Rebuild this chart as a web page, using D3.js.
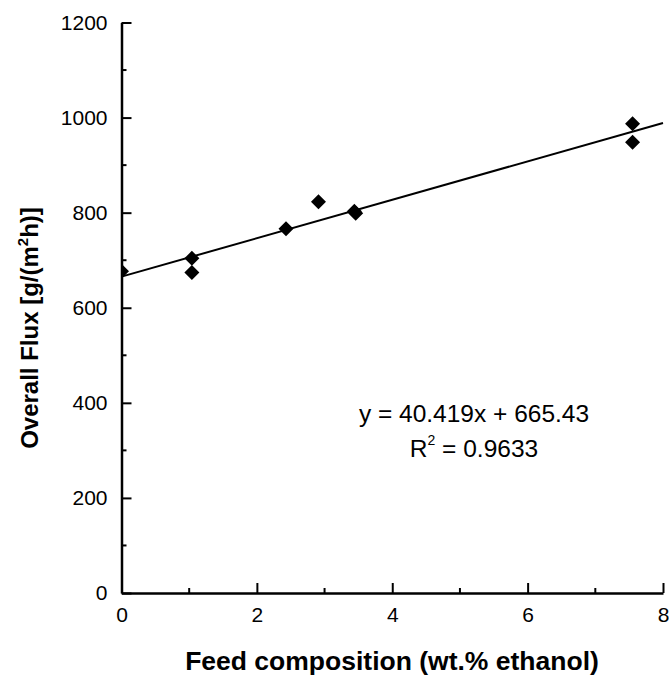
<!DOCTYPE html>
<html>
<head>
<meta charset="utf-8">
<script src="https://cdn.jsdelivr.net/npm/d3@7"></script>
<style>
  html, body { margin: 0; padding: 0; background: #fff; }
  svg { display: block; font-family: "Liberation Sans", Arial, sans-serif; }
</style>
</head>
<body>
<svg id="chart" width="669" height="675"></svg>
<script>
// Data
const feedComposition = [0, 1.04, 1.04, 2.43, 2.91, 3.44, 3.46, 7.55, 7.55];
const overallFlux     = [677, 704, 674, 766, 823, 803, 799, 987, 948];
const xTicks = [0, 2, 4, 6, 8];
const xMinorTicks = [1, 3, 5, 7];
const yTicks = [0, 200, 400, 600, 800, 1000, 1200];
const yMinorTicks = [100, 300, 500, 700, 900, 1100];
const fitSlope = 40.419;
const fitIntercept = 665.43;
const fitRange = [0, 8];

const FONT = "Liberation Sans, Arial, sans-serif";
const svg = d3.select("#chart");
const margin = { left: 121.5, right: 6, top: 22.5, bottom: 82 };
const W = 669, H = 675;

const x = d3.scaleLinear().domain([0, 8]).range([margin.left, W - margin.right]);
const y = d3.scaleLinear().domain([0, 1200]).range([H - margin.bottom, margin.top]);

svg.append("defs").append("clipPath").attr("id", "plotclip")
  .append("rect")
  .attr("x", x(0)).attr("y", y(1200) - 10)
  .attr("width", x(8) - x(0) + 10).attr("height", y(0) - y(1200) + 10);

// Fit line
svg.append("line")
  .attr("x1", x(fitRange[0])).attr("y1", y(fitSlope * fitRange[0] + fitIntercept))
  .attr("x2", x(fitRange[1])).attr("y2", y(fitSlope * fitRange[1] + fitIntercept))
  .attr("stroke", "#000").attr("stroke-width", 2);

// Points (diamonds)
const r = 7.5;
const diamond = `M0,${-r}L${r},0L0,${r}L${-r},0Z`;
svg.append("g").attr("clip-path", "url(#plotclip)")
  .selectAll("path")
  .data(feedComposition.map((d, i) => [d, overallFlux[i]]))
  .join("path")
  .attr("d", diamond)
  .attr("transform", d => `translate(${x(d[0])},${y(d[1])})`)
  .attr("fill", "#000");

// X axis
const xAxis = svg.append("g").attr("transform", `translate(0,${y(0)})`);
xAxis.call(d3.axisBottom(x).tickValues(xTicks).tickSizeInner(-10).tickSizeOuter(0).tickPadding(14).tickFormat(d3.format("d")));
xAxis.append("g").selectAll("line").data(xMinorTicks).join("line")
  .attr("x1", d => x(d)).attr("x2", d => x(d)).attr("y1", 0).attr("y2", -5)
  .attr("stroke", "#000").attr("stroke-width", 2);
xAxis.select(".domain").attr("stroke-width", 2.5);
xAxis.selectAll(".tick line").attr("stroke-width", 2);
xAxis.selectAll(".tick text").attr("font-size", 21).attr("fill", "#000").attr("font-family", FONT);

// Y axis
const yAxis = svg.append("g").attr("transform", `translate(${x(0)},0)`);
yAxis.call(d3.axisLeft(y).tickValues(yTicks).tickSizeInner(-10).tickSizeOuter(0).tickPadding(14).tickFormat(d3.format("d")));
yAxis.append("g").selectAll("line").data(yMinorTicks).join("line")
  .attr("x1", 0).attr("x2", 5).attr("y1", d => y(d)).attr("y2", d => y(d))
  .attr("stroke", "#000").attr("stroke-width", 2);
yAxis.select(".domain").attr("stroke-width", 2.5);
yAxis.selectAll(".tick line").attr("stroke-width", 2);
yAxis.selectAll(".tick text").attr("font-size", 21).attr("fill", "#000").attr("font-family", FONT);

// Axis titles
svg.append("text")
  .attr("x", 392).attr("y", 670)
  .attr("text-anchor", "middle")
  .attr("font-size", 26.5).attr("font-weight", "bold")
  .text("Feed composition (wt.% ethanol)");

const yt = svg.append("text")
  .attr("transform", `translate(38,328) rotate(-90)`)
  .attr("text-anchor", "middle")
  .attr("font-size", 24).attr("font-weight", "bold");
yt.append("tspan").text("Overall Flux [g/(m");
yt.append("tspan").attr("font-size", 15).attr("dy", -10).text("2");
yt.append("tspan").attr("dy", 10).text("h)]");

// Equation
svg.append("text")
  .attr("x", 474).attr("y", 422)
  .attr("text-anchor", "middle").attr("font-size", 24.5)
  .text(`y = ${fitSlope}x + ${fitIntercept}`);
const r2 = svg.append("text")
  .attr("x", 474).attr("y", 457)
  .attr("text-anchor", "middle").attr("font-size", 24.5);
r2.append("tspan").text("R");
r2.append("tspan").attr("font-size", 14).attr("dy", -12).text("2");
r2.append("tspan").attr("dy", 12).text(" = 0.9633");
</script>
</body>
</html>
